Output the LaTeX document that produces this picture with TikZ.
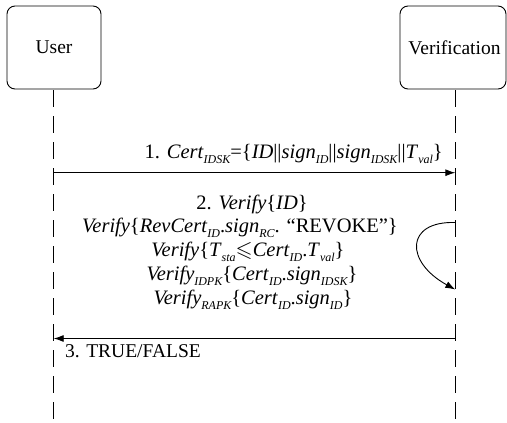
\documentclass[tikz,border=0pt]{standalone}
\usepackage{fontspec}
\setmainfont{Liberation Serif}
\usepackage{amssymb}
\usetikzlibrary{arrows.meta}
\newcommand{\sbs}[1]{\raisebox{-5pt}[0pt][0pt]{\fontsize{12}{12}\selectfont\itshape #1}}
\newcommand{\bigleq}{{\fontsize{22}{22}\selectfont$\leqslant$}}
\begin{document}
\begin{tikzpicture}[x=1pt,y=-1pt,
  actor/.style={draw, rounded corners=8pt, line width=0.9pt, minimum height=83pt, inner sep=0pt, font=\fontsize{19.5}{22}\selectfont},
  lifeline/.style={line width=0.9pt, dash pattern=on 17pt off 9pt},
  msg/.style={line width=0.9pt, -{Latex[length=10pt,width=7pt]}},
  lbl/.style={inner sep=0pt, font=\fontsize{20.5}{24}\selectfont},
  plain/.style={inner sep=0pt, font=\fontsize{19.5}{22}\selectfont}]
\useasboundingbox (0,0) rectangle (507,423);
% actors
\node[actor, minimum width=94pt] (user) at (54,47.5) {User};
\node[actor, minimum width=106pt] (ver) at (453,47.5) {\hspace{3pt}Verification};
% lifelines
\coordinate (uTop) at (53.7,90);
\coordinate (uBot) at (53.7,423);
\coordinate (vTop) at (455.3,90);
\coordinate (vBot) at (455.3,423);
\draw[lifeline] (uTop) -- (uBot);
\draw[lifeline] (vTop) -- (vBot);
% message 1
\coordinate (u1) at (53.7,172.7);
\coordinate (v1) at (455.3,172.7);
\draw[msg] (u1) -- (v1);
\node[lbl, anchor=base east] (t1) at (443,158) {1. \textit{Cert}\sbs{IDSK}=\{\textit{ID}||\textit{sign}\sbs{ID}||\textit{sign}\sbs{IDSK}||\textit{T}\sbs{val}\}};
% step 2 text
\node[lbl, anchor=base] (l1) at (252,209) {2. \textit{Verify}\{\textit{ID}\}};
\node[lbl, anchor=base] (l2) at (240,232) {\textit{Verify}\{\textit{RevCert}\sbs{ID}.\textit{sign}\sbs{RC}. “REVOKE”\}};
\node[lbl, anchor=base] (l3) at (248,256) {\textit{Verify}\{\textit{T}\sbs{sta}\bigleq\textit{Cert}\sbs{ID}.\textit{T}\sbs{val}\}};
\node[lbl, anchor=base] (l4) at (252,280) {\textit{Verify}\sbs{IDPK}\{\textit{Cert}\sbs{ID}.\textit{sign}\sbs{IDSK}\}};
\node[lbl, anchor=base] (l5) at (253,304) {\textit{Verify}\sbs{RAPK}\{\textit{Cert}\sbs{ID}.\textit{sign}\sbs{ID}\}};
% self arrow
\coordinate (s1) at (455.3,222.5);
\coordinate (s2) at (455.3,289.5);
\draw[msg] (s1) .. controls (405,221) and (405,262) .. (s2);
% message 3
\coordinate (v3) at (455.3,338.5);
\coordinate (u3) at (53.7,338.5);
\draw[msg] (v3) -- (u3);
\node[plain, anchor=base west] (t3) at (65,357) {3. TRUE/FALSE};
\end{tikzpicture}
\end{document}
